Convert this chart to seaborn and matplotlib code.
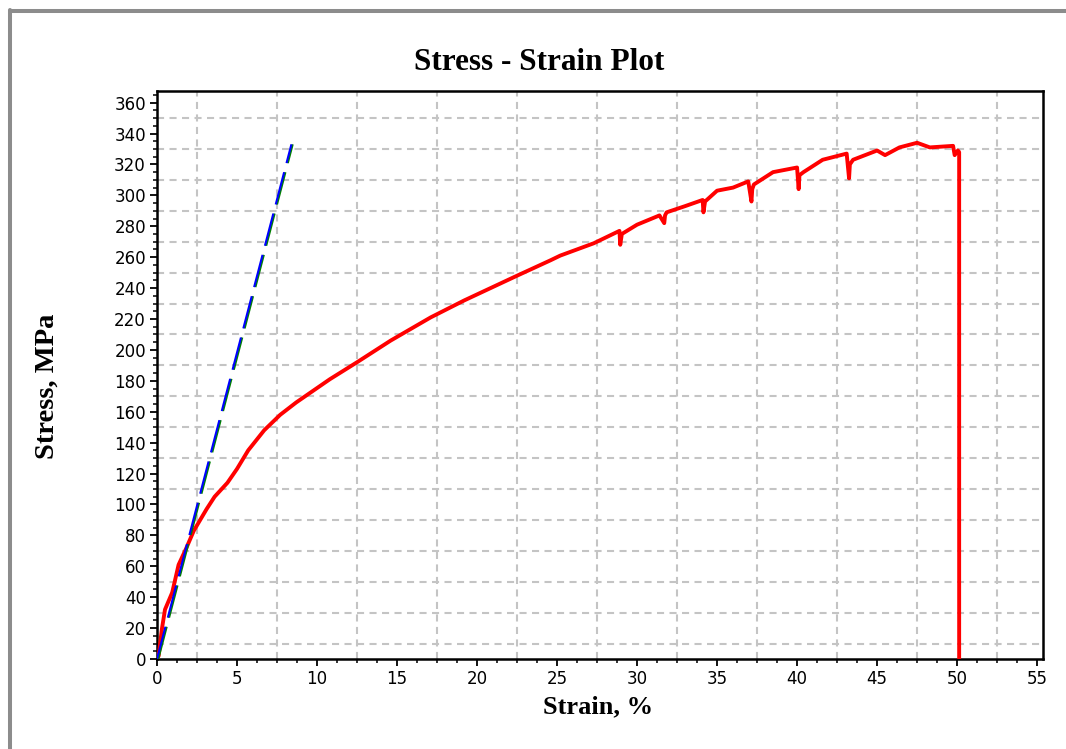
import numpy as np
import pandas as pd
import matplotlib
matplotlib.use("Agg")
import matplotlib.pyplot as plt
import seaborn as sns
from matplotlib.lines import Line2D
from matplotlib.ticker import MultipleLocator, FixedLocator

# ---------------- data ----------------
strain = [0, 0.1, 0.3, 0.5, 0.95, 1.35, 1.8, 2.3, 2.7, 3.1, 3.6, 4.4, 5.0, 5.7,
          6.7, 7.7, 8.7, 10.8, 12.5, 14.6, 17.1, 19.2, 22.5, 24.6, 25.2, 27.3,
          28.9, 28.95, 29.05, 30.0, 31.4, 31.7, 31.75, 31.85, 33.0, 34.1, 34.15,
          34.25, 35.0, 36.0, 36.95, 37.15, 37.2, 37.3, 38.5, 40.0, 40.1, 40.15,
          40.4, 41.6, 43.1, 43.25, 43.3, 43.5, 45.0, 45.5, 46.4, 47.5, 48.3,
          49.75, 49.85, 50.05, 50.13, 50.13]
stress = [0, 2, 19, 32, 43, 61, 71, 83, 90, 97, 105, 114, 123, 135,
          148, 158, 166, 181, 192, 206, 221, 232, 248, 258, 261, 269,
          277, 268, 275, 281, 287, 282, 287, 289, 293, 297, 289,
          296, 303, 305, 309, 296, 304, 307, 315, 318, 304, 313,
          315, 323, 327, 311, 320, 323, 329, 326, 331, 334, 331,
          332, 326, 329, 328, 0]

modulus_blue_strain = [0.0, 8.4]
modulus_blue_stress = [0, 333]
modulus_green_strain = [0.08, 8.48]
modulus_green_stress = [0, 333]

x_ticks = list(range(0, 56, 5))
y_ticks = list(range(0, 361, 20))

title = "Stress - Strain Plot"
xlabel = "Strain, %"
ylabel = "Stress, MPa"

# ---------------- figure ----------------
sns.set_style("white")
plt.rcParams["font.family"] = ["DejaVu Sans"]
plt.rcParams["text.color"] = "black"

W, H = 1066, 749
fig = plt.figure(figsize=(W / 100, H / 100), dpi=100)
fig.patch.set_facecolor("white")
ax = fig.add_axes([157 / W, 1 - 659 / H, (1043 - 157) / W, (659 - 91) / H])

df_red = pd.DataFrame({"strain": strain, "stress": stress})
df_blue = pd.DataFrame({"strain": modulus_blue_strain, "stress": modulus_blue_stress})
df_green = pd.DataFrame({"strain": modulus_green_strain, "stress": modulus_green_stress})

dash = (0, (16, 4.5))
sns.lineplot(data=df_red, x="strain", y="stress", ax=ax, color="#ff0000",
             lw=2.8, sort=False, estimator=None, zorder=3)
sns.lineplot(data=df_green, x="strain", y="stress", ax=ax, color="#008000",
             lw=1.5, sort=False, estimator=None, zorder=4, linestyle=dash)
sns.lineplot(data=df_blue, x="strain", y="stress", ax=ax, color="#0000ff",
             lw=1.5, sort=False, estimator=None, zorder=5, linestyle=dash)

ax.set_xlim(0, 55.37)
ax.set_ylim(0, 367.5)

# grid lines lie halfway between labelled ticks
for gx in np.arange(2.5, 55.37, 5):
    ax.axvline(gx, color="#c4c4c4", lw=1.5, linestyle=(0, (3.4, 2.6)), zorder=0)
for gy in np.arange(10, 367.5, 20):
    ax.axhline(gy, color="#c4c4c4", lw=1.5, linestyle=(0, (3.4, 2.6)), zorder=0)

ax.xaxis.set_major_locator(FixedLocator(x_ticks))
ax.yaxis.set_major_locator(FixedLocator(y_ticks))
ax.xaxis.set_minor_locator(MultipleLocator(1.25))
ax.yaxis.set_minor_locator(MultipleLocator(5))
ax.tick_params(axis="both", which="major", direction="out", length=5, width=1.3,
               labelsize=12, pad=3, colors="black", bottom=True, left=True,
               top=False, right=False)
ax.tick_params(axis="both", which="minor", direction="out", length=3, width=1.1,
               colors="black", bottom=True, left=True, top=False, right=False)
for s in ax.spines.values():
    s.set_visible(True)
    s.set_color("black")
    s.set_linewidth(1.8)

ax.set_xlabel("")
ax.set_ylabel("")

serif = ["Liberation Serif", "DejaVu Serif"]
fig.text(539 / W, 1 - 62 / H, title, ha="center", va="center", color="black",
         fontsize=22.5, fontweight="bold", family=serif)
fig.text(598 / W, 1 - 707 / H, xlabel, ha="center", va="center", color="black",
         fontsize=19, fontweight="bold", family=serif)
fig.text(47 / W, 1 - 386 / H, ylabel, ha="center", va="center", rotation=90,
         color="black", fontsize=20.5, fontweight="bold", family=serif)

# window frame (top and left edges)
fig.add_artist(Line2D([10 / W, 1.0], [1 - 11 / H, 1 - 11 / H],
                      transform=fig.transFigure, color="#8c8c8c", lw=2.9))
fig.add_artist(Line2D([10 / W, 10 / W], [1 - 9.5 / H, 0.0],
                      transform=fig.transFigure, color="#8c8c8c", lw=2.9))

fig.savefig("out.png", dpi=100)
